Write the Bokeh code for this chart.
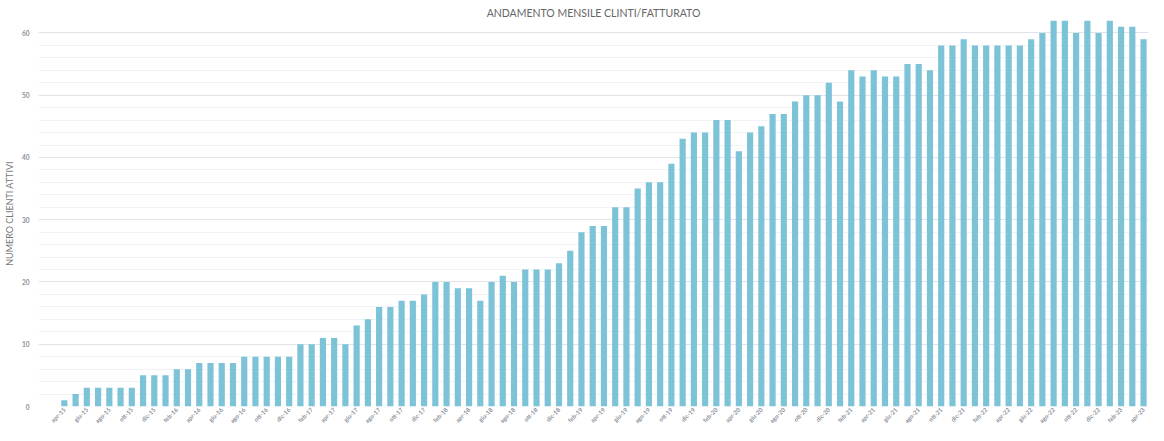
from math import pi
from bokeh.plotting import figure
from bokeh.models import Range1d, FixedTicker, SingleIntervalTicker, ColumnDataSource
from bokeh.embed import file_html
from bokeh.resources import INLINE

title_text = "ANDAMENTO MENSILE CLINTI/FATTURATO"
y_label = "NUMERO CLIENTI ATTIVI"

mesi = ["gen", "feb", "mar", "apr", "mag", "giu", "lug", "ago", "set", "ott", "nov", "dic"]
start_month = 3   # apr
start_year = 15

clienti = [1, 2, 3, 3, 3, 3, 3, 5, 5, 5, 6, 6, 7, 7, 7, 7, 8, 8, 8, 8,
           8, 10, 10, 11, 11, 10, 13, 14, 16, 16, 17, 17, 18, 20, 20, 19, 19, 17, 20, 21,
           20, 22, 22, 22, 23, 25, 28, 29, 29, 32, 32, 35, 36, 36, 39, 43, 44, 44, 46, 46,
           41, 44, 45, 47, 47, 49, 50, 50, 52, 49, 54, 53, 54, 53, 53, 55, 55, 54, 58, 58,
           59, 58, 58, 58, 58, 58, 59, 60, 62, 62, 60, 62, 60, 62, 61, 61, 59]

n = len(clienti)
labels = []
for i in range(n):
    m = (start_month + i) % 12
    y = start_year + (start_month + i) // 12
    labels.append(f"{mesi[m]}-{y:02d}")

idx = list(range(n))
source = ColumnDataSource(dict(x=idx, y=clienti, label=labels))

p = figure(frame_width=1110, frame_height=386, output_backend="svg", toolbar_location=None,
           x_range=Range1d(-2.3, n - 1 + 0.44), y_range=Range1d(0, 62),
           min_border_left=38, min_border_right=0, min_border_bottom=0, min_border_top=20)

p.vbar(x="x", top="y", width=0.55, source=source, color="#7dc3d8", line_color=None)

p.title.text = title_text
p.title.align = "center"
p.title.text_font = "Lato"
p.title.text_font_size = "10.5px"
p.title.text_font_style = "normal"
p.title.text_color = "#666666"
p.title.standoff = 4

p.outline_line_color = None
p.background_fill_color = "white"
p.border_fill_color = "white"

# y axis
p.yaxis.ticker = SingleIntervalTicker(interval=10, num_minor_ticks=5)
p.yaxis.axis_label = y_label
p.yaxis.axis_label_text_font = "Lato"
p.yaxis.axis_label_text_font_size = "9px"
p.yaxis.axis_label_text_font_style = "normal"
p.yaxis.axis_label_text_color = "#777777"
p.yaxis.axis_label_standoff = 4
p.yaxis.major_label_text_font = "Lato"
p.yaxis.major_label_text_font_size = "6.5px"
p.yaxis.major_label_text_font_style = "bold"
p.yaxis.major_label_text_color = "#8a9099"
p.yaxis.major_label_standoff = 9
p.yaxis.axis_line_color = None
p.yaxis.major_tick_line_color = None
p.yaxis.minor_tick_line_color = None
p.yaxis.major_tick_out = 0
p.yaxis.major_tick_in = 0
p.yaxis.minor_tick_out = 0

p.ygrid.grid_line_color = "#dfe4ea"
p.ygrid.minor_grid_line_color = "#f1f2f5"
p.xgrid.grid_line_color = None

# x axis
p.xaxis.ticker = FixedTicker(ticks=idx[::2])
p.xaxis.major_label_overrides = {i: labels[i] for i in idx[::2]}
p.xaxis.major_label_orientation = pi / 4
p.xaxis.major_label_text_font = "Lato"
p.xaxis.major_label_text_font_size = "6px"
p.xaxis.major_label_text_font_style = "bold"
p.xaxis.major_label_text_color = "#8a9099"
p.xaxis.major_label_standoff = 2
p.xaxis.axis_line_color = None
p.xaxis.major_tick_line_color = None
p.xaxis.minor_tick_line_color = None
p.xaxis.major_tick_out = 0
p.xaxis.major_tick_in = 0
p.xaxis.minor_tick_out = 0

open("out.html", "w").write(file_html(p, INLINE))
